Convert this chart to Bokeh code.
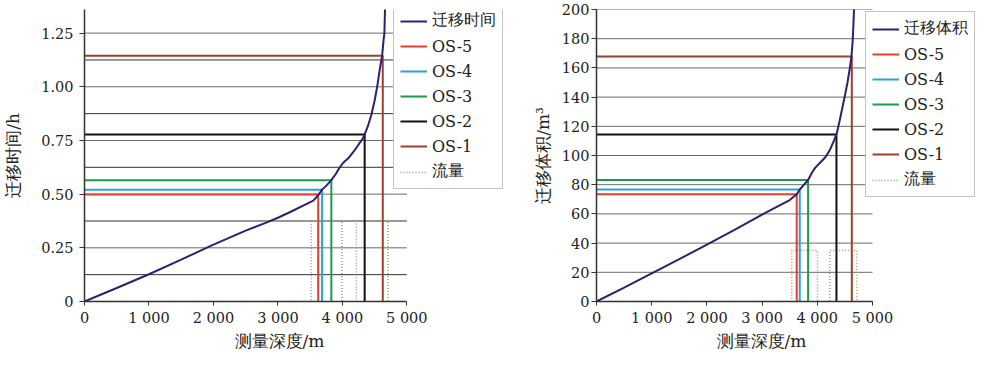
from bokeh.plotting import figure
from bokeh.layouts import row
from bokeh.models import FixedTicker, Legend, LegendItem, Range1d, Title
from bokeh.embed import file_html
from bokeh.resources import INLINE

# ---------------- data ----------------
x_ticks = [0, 1000, 2000, 3000, 4000, 5000]
x_tick_labels = ["0", "1 000", "2 000", "3 000", "4 000", "5 000"]
x_max = 5000

# left chart: migration time
depth_t = [0, 500, 1000, 1500, 2000, 2500, 2800, 3000, 3200, 3400, 3550, 3625,
           3686, 3760, 3829, 3900, 3960, 4010, 4100, 4180, 4260, 4310, 4346,
           4400, 4450, 4500, 4540, 4580, 4617, 4640, 4652, 4663, 4670]
time_h = [0, 0.063, 0.127, 0.195, 0.265, 0.330, 0.365, 0.390, 0.418, 0.448,
          0.470, 0.495, 0.521, 0.542, 0.565, 0.595, 0.625, 0.645, 0.670, 0.700,
          0.735, 0.755, 0.778, 0.820, 0.870, 0.935, 1.000, 1.080, 1.145, 1.220,
          1.250, 1.375, 1.430]
os_names = ["OS-5", "OS-4", "OS-3", "OS-2", "OS-1"]
os_depth_t = [3625, 3686, 3829, 4346, 4627]
os_time = [0.498, 0.521, 0.565, 0.778, 1.145]
flow_start_t = [3517, 4218]
flow_end_t = [3993, 4709]
flow_level_t = 0.375
t_ticks = [0, 0.25, 0.5, 0.75, 1.0, 1.25]
t_minor = [0.125, 0.375, 0.625, 0.875, 1.125, 1.375]
t_tick_labels = ["0", "0.25", "0.50", "0.75", "1.00", "1.25"]

# right chart: migration volume
depth_v = [0, 500, 1000, 1500, 2000, 2500, 3000, 3300, 3500, 3627, 3682, 3760,
           3833, 3900, 3960, 4050, 4150, 4230, 4300, 4347, 4400, 4456, 4500,
           4547, 4590, 4619, 4640, 4655, 4665, 4670]
vol_m3 = [0, 9.5, 19.2, 29, 39, 49, 59.5, 65.5, 69.5, 73.4, 76.7, 80, 83.2,
          88, 91.5, 95, 99, 104, 110, 114.4, 123, 133, 141, 150, 160, 167.8,
          178, 190, 200, 206]
os_depth_v = [3627, 3682, 3833, 4347, 4625]
os_vol = [73.4, 76.7, 83.2, 114.4, 167.8]
flow_start_v = [3537, 4226]
flow_end_v = [4002, 4716]
flow_level_v = 35
v_ticks = [0, 20, 40, 60, 80, 100, 120, 140, 160, 180, 200]

# ---------------- styles ----------------
SERIF = "DejaVu Serif"
CURVE_C = "#2f1f6e"
OS_COLORS = ["#e5402e", "#26a2dc", "#1e9a4c", "#111111", "#9e3f2c"]
FLOW_C = "#9c9a6e"


def build(width, border_left, border_top, frame_px, y_end, yticks, yminor, ylabels,
          ytitle, title_offset, ylab_standoff, ytitle_standoff,
          depth, vals, osd, osv, fs, fe, flevel, curve_name, leg_xy):
    frame_w = width - border_left
    x_end = x_max * frame_w / frame_px
    p = figure(width=width, height=350, output_backend="svg", toolbar_location=None,
               x_range=Range1d(0, x_end), y_range=Range1d(0, y_end),
               min_border_left=border_left, min_border_right=0,
               min_border_top=border_top, min_border_bottom=0)
    p.outline_line_color = None
    p.background_fill_color = "white"
    p.xgrid.grid_line_color = None
    p.ygrid.grid_line_color = None
    p.yaxis.ticker = FixedTicker(ticks=yticks, minor_ticks=[])
    p.yaxis.major_label_overrides = {t: l for t, l in zip(yticks, ylabels)}
    p.xaxis.ticker = FixedTicker(ticks=x_ticks, minor_ticks=[])
    p.xaxis.major_label_overrides = {t: l for t, l in zip(x_ticks, x_tick_labels)}
    p.xaxis.bounds = (0, x_max)
    p.xaxis.axis_label = None
    for ax in (p.xaxis, p.yaxis):
        ax.axis_line_color = "#333333"
        ax.axis_line_width = 1.5
        ax.major_tick_line_color = "#333333"
        ax.major_tick_in = 0
        ax.minor_tick_line_color = None
        ax.major_label_text_font = SERIF
        ax.major_label_text_font_size = "14.5px"
        ax.major_label_text_color = "#222222"
        ax.axis_label_text_font = SERIF
        ax.axis_label_text_font_size = "17px"
        ax.axis_label_text_font_style = "normal"
        ax.axis_label_text_color = "#222222"
    p.xaxis.major_tick_out = 4
    p.xaxis.major_label_standoff = 4
    p.yaxis.major_tick_out = 5
    p.yaxis.major_label_standoff = ylab_standoff
    p.yaxis.axis_label = ytitle
    p.yaxis.axis_label_standoff = ytitle_standoff

    # horizontal grid lines, limited to the data extent
    p.segment(x0=[0] * len(yticks), y0=yticks, x1=[x_max] * len(yticks), y1=yticks,
              line_color="#6a6a6a", line_width=1)
    if yminor:
        p.segment(x0=[0] * len(yminor), y0=yminor, x1=[x_max] * len(yminor), y1=yminor,
                  line_color="#333333", line_width=1)

    # flow (dotted step)
    fx, fy = [0], [0]
    for s, e in zip(fs, fe):
        fx += [s, s, e, e]
        fy += [0, flevel, flevel, 0]
    fx.append(x_max)
    fy.append(0)
    r_flow = p.line(fx, fy, line_color=FLOW_C, line_width=1.5, line_dash="1 2")

    r_os = []
    for d, v, c in zip(osd, osv, OS_COLORS):
        r_os.append(p.line([0, d, d], [v, v, 0], line_color=c, line_width=2))
    r_curve = p.line(depth, vals, line_color=CURVE_C, line_width=2)

    items = [LegendItem(label=curve_name, renderers=[r_curve])]
    items += [LegendItem(label=n, renderers=[r]) for n, r in zip(os_names, r_os)]
    items.append(LegendItem(label="流量", renderers=[r_flow]))
    leg = Legend(items=items, location=leg_xy)
    leg.label_text_font = SERIF
    leg.label_text_font_size = "16px"
    leg.label_text_color = "#222222"
    leg.label_height = 20
    leg.glyph_height = 20
    leg.glyph_width = 27
    leg.label_standoff = 5
    leg.spacing = 5
    leg.padding = 6
    leg.margin = 0
    leg.border_line_color = "#888888"
    leg.border_line_width = 1
    leg.background_fill_alpha = 1
    p.add_layout(leg, "center")

    t = Title(text="测量深度/m", align="left", offset=title_offset,
              text_font=SERIF, text_font_size="17px", text_font_style="normal",
              text_color="#222222", standoff=0)
    p.add_layout(t, "below")
    return p


left = build(522, 79, 0, 326, 1.36, t_ticks, t_minor, t_tick_labels,
             "迁移时间/h", 150, 6, 15,
             depth_t, time_h, os_depth_t, os_time, flow_start_t, flow_end_t,
             flow_level_t, "迁移时间", (309, 112))
right = build(462, 74, 9, 276, 200, v_ticks, [], [str(v) for v in v_ticks],
              "迁移体积/m³", 120, 2, 6,
              depth_v, vol_m3, os_depth_v, os_vol, flow_start_v, flow_end_v,
              flow_level_v, "迁移体积", (269, 104))

p = row(left, right)
open("out.html", "w").write(file_html(p, INLINE))
